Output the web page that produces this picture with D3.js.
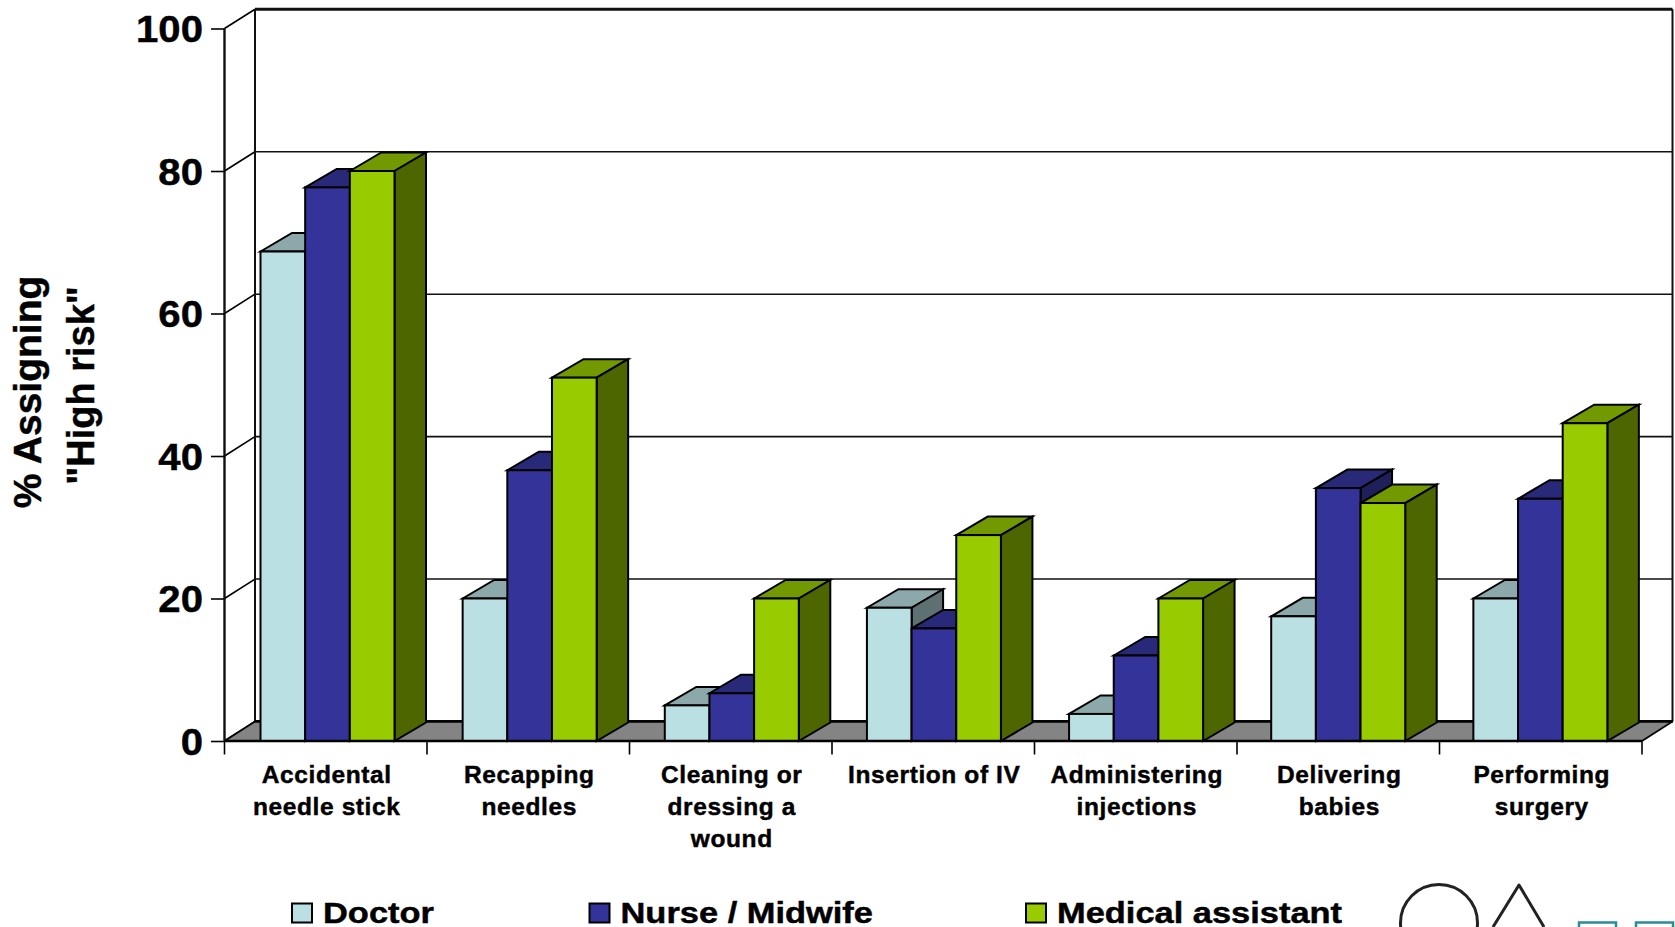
<!DOCTYPE html>
<html><head><meta charset="utf-8">
<script src="https://cdn.jsdelivr.net/npm/d3@7/dist/d3.min.js"></script>
<style>
html,body{margin:0;padding:0;background:#fff;overflow:hidden}
svg{display:block}
text{font-family:"Liberation Sans",Arial,sans-serif;font-weight:bold;fill:#000;stroke:#000;stroke-width:.45px}
</style></head><body>
<script>
const categories = ["Accidental|needle stick","Recapping|needles","Cleaning or|dressing a|wound","Insertion of IV","Administering|injections","Delivering|babies","Performing|surgery"];
const seriesNames = ["Doctor","Nurse / Midwife","Medical assistant"];
const doctor = [68.7,20,5,18.7,3.8,17.5,20];
const nurse = [77.7,38,6.7,15.8,12,35.5,34];
const assistant = [80,51,20,28.9,20,33.4,44.6];
const yTicks = [0,20,40,60,80,100];
const frontColors = ["#bbe0e3","#333399","#99cc00"];
const topColors = ["#8ca8aa","#29297a","#739900"];
const sideColors = ["#5e7072","#1f1f5c","#4d6600"];

const W=1675,H=927;
const svg=d3.select("body").append("svg").attr("width",W).attr("height",H);
const y=d3.scaleLinear().domain([0,100]).range([741,28.5]);
const yBack=d3.scaleLinear().domain([0,100]).range([721.5,9.3]);
const x=d3.scaleBand().domain(categories).range([224.5,1642]);
const xBars=d3.scaleBand().domain(categories).range([260.5,1675.5]);
const inner=d3.scaleBand().domain(seriesNames).range([0,134]);
const wallDx=30.5,barDx=31.5,barDy=-18.5;
const x0=x.range()[0],x1=x.range()[1];
const poly=p=>p.map(d=>d.join(",")).join(" ");

// back wall + gridlines
const grid=svg.append("g");
grid.selectAll("line.h").data(yTicks).join("line").attr("class","h")
 .attr("x1",x0+wallDx).attr("x2",x1+wallDx).attr("y1",d=>yBack(d)).attr("y2",d=>yBack(d))
 .attr("stroke","#111").attr("stroke-width",d=>d===100||d===0?3:1.6);
grid.selectAll("line.s").data(yTicks).join("line").attr("class","s")
 .attr("x1",x0).attr("x2",x0+wallDx).attr("y1",d=>y(d)).attr("y2",d=>yBack(d))
 .attr("stroke","#000").attr("stroke-width",1.6);
[x0+wallDx,x1+wallDx].forEach(v=>grid.append("line").attr("x1",v).attr("x2",v)
 .attr("y1",yBack(100)).attr("y2",yBack(0)).attr("stroke","#111").attr("stroke-width",2));
// floor
svg.append("polygon").attr("points",poly([[x0,y(0)],[x0+wallDx,yBack(0)],[x1+wallDx,yBack(0)],[x1,y(0)]]))
 .attr("fill","#848484").attr("stroke","none");
svg.append("line").attr("x1",x0+wallDx).attr("x2",x1+wallDx).attr("y1",yBack(0)).attr("y2",yBack(0))
 .attr("stroke","#000").attr("stroke-width",2.5);
svg.append("line").attr("x1",x0).attr("x2",x0+wallDx).attr("y1",y(0)).attr("y2",yBack(0)).attr("stroke","#000").attr("stroke-width",1.6);
svg.append("line").attr("x1",x1).attr("x2",x1+wallDx).attr("y1",y(0)).attr("y2",yBack(0)).attr("stroke","#000").attr("stroke-width",1.6);

// bars
const rows=[doctor,nurse,assistant];
const gBars=svg.append("g").attr("stroke","#000").attr("stroke-width",2).attr("stroke-linejoin","miter");
categories.forEach((c,ci)=>{
 seriesNames.forEach((s,si)=>{
  const v=rows[si][ci],l=xBars(c)+inner(s),w=inner.bandwidth(),t=y(v),b=y(0);
  gBars.append("polygon").attr("points",poly([[l,t],[l+barDx,t+barDy],[l+w+barDx,t+barDy],[l+w,t]])).attr("fill",topColors[si]);
  gBars.append("polygon").attr("points",poly([[l+w,t],[l+w+barDx,t+barDy],[l+w+barDx,b+barDy],[l+w,b]])).attr("fill",sideColors[si]);
 });
 seriesNames.forEach((s,si)=>{
  const v=rows[si][ci],l=xBars(c)+inner(s),w=inner.bandwidth(),t=y(v),b=y(0);
  gBars.append("rect").attr("x",l).attr("y",t).attr("width",w).attr("height",b-t).attr("fill",frontColors[si]);
 });
});

// y axis
const ax=svg.append("g").attr("transform",`translate(${x0},0)`)
 .call(d3.axisLeft(y).tickValues(yTicks).tickSize(13.5).tickPadding(8));
ax.select(".domain").attr("stroke","#111").attr("stroke-width",2.4).attr("d",`M0,${y(100)}V${y(0)}`);
ax.selectAll(".tick line").attr("stroke","#000").attr("stroke-width",1.6);
ax.selectAll(".tick text").style("font-size","37.5px").style("font-family",'"Liberation Sans"').style("font-weight","bold")
 .attr("fill","#000").attr("dy","0.35em").attr("x",0).attr("transform","translate(-21.5,0) scale(1.07,1)");

// x axis
svg.append("line").attr("x1",x0).attr("x2",x1).attr("y1",y(0)).attr("y2",y(0)).attr("stroke","#000").attr("stroke-width",2.4);
const edges=categories.map(c=>x(c)).concat([x1]);
svg.selectAll("line.xt").data(edges).join("line").attr("class","xt")
 .attr("x1",d=>d).attr("x2",d=>d).attr("y1",y(0)).attr("y2",y(0)+13.5).attr("stroke","#000").attr("stroke-width",1.6);
const labs=svg.selectAll("text.cat").data(categories).join("text").attr("class","cat")
 .attr("text-anchor","middle").style("font-size","24.5px").style("letter-spacing","0.6px");
labs.each(function(c){
 c.split("|").forEach((t,i)=>d3.select(this).append("tspan")
  .attr("x",x(c)+x.bandwidth()/2+1).attr("y",782.5+i*32).text(t));
});

// y title
const title=svg.append("g");
[["% Assigning",41,392,39],['"High risk"',94,385.5,38]].forEach(([t,bx,cy,fs])=>title.append("text")
 .attr("transform",`translate(${bx},${cy}) rotate(-90)`).attr("text-anchor","middle").style("font-size",fs+"px").text(t));

// legend
const legX=d3.scaleOrdinal().domain(seriesNames).range([292,589.5,1026]);
const leg=svg.selectAll("g.leg").data(seriesNames).join("g").attr("class","leg")
 .attr("transform",d=>`translate(${legX(d)},903.5)`);
leg.append("rect").attr("width",20).attr("height",19).attr("stroke","#000").attr("stroke-width",2)
 .attr("fill",(d,i)=>frontColors[i]);
leg.append("text").attr("transform","translate(31,19.5) scale(1.148,1)").style("font-size","30px").text(d=>d);

// logo, cut by the page edge
const logo=svg.append("g").attr("fill","none");
logo.append("circle").attr("cx",1439).attr("cy",923).attr("r",38.5).attr("stroke","#222").attr("stroke-width",3);
logo.append("path").attr("d","M1493,927L1519,885L1544,927").attr("stroke","#222").attr("stroke-width",3).attr("stroke-linejoin","round");
logo.append("rect").attr("x",1579).attr("y",922.5).attr("width",37).attr("height",20).attr("stroke","#2a8c96").attr("stroke-width",2.5);
logo.append("rect").attr("x",1636).attr("y",922.5).attr("width",37).attr("height",20).attr("stroke","#2a8c96").attr("stroke-width",2.5);
</script>
</body></html>
